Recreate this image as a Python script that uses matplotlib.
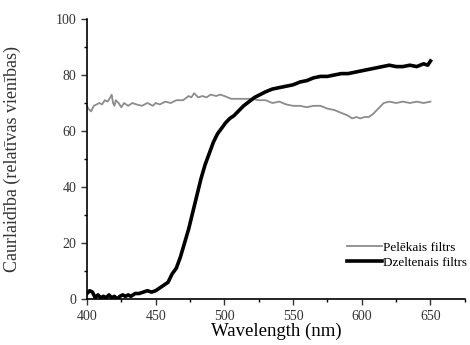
import matplotlib.pyplot as plt
from matplotlib.ticker import MultipleLocator

plt.rcParams['font.family'] = ['Liberation Serif', 'DejaVu Serif']

# Pelēkais filtrs (grey filter)
grey_wl = [400, 401, 403, 405, 407, 409, 411, 413, 415, 417, 418, 419, 420, 421, 423, 425, 427, 430,
           433, 436, 440, 444, 448, 450, 453, 457, 461, 465, 470, 474, 476, 478, 481, 484, 487, 490,
           494, 497, 500, 505, 510, 515, 520, 525, 530, 535, 540, 545, 550, 555, 560, 565, 570,
           575, 580, 585, 590, 593, 596, 599, 602, 605, 608, 612, 616, 620, 625, 630, 635, 640,
           645, 650]
grey_val = [69, 68, 67, 69, 69.5, 70, 69.5, 71, 70.5, 72, 73, 70, 69, 71, 70, 68.5, 70, 69,
            70, 69.5, 69, 70, 69, 70, 69.5, 70.5, 70, 71, 71, 72.5, 72, 73.5, 72, 72.5, 72, 73,
            72.5, 73, 72.5, 71.5, 71.5, 71.5, 71.5, 71, 71, 70, 70.5, 69.5, 69, 69, 68.5, 69, 69,
            68, 67.5, 66.5, 65.5, 64.5, 65, 64.5, 65, 65, 66, 68, 70, 70.5, 70, 70.5, 70, 70.5,
            70, 70.5]

# Dzeltenais filtrs (yellow filter)
yel_wl = [400, 402, 404, 406, 408, 410, 412, 414, 416, 418, 420, 422, 424, 426, 428, 430, 432,
          435, 438, 441, 444, 447, 450, 453, 456, 459, 462, 465, 468, 471, 474, 477, 480, 483,
          486, 489, 492, 495, 498, 501, 504, 507, 510, 514, 518, 522, 526, 530, 535, 540, 545,
          550, 555, 560, 565, 570, 575, 580, 585, 590, 595, 600, 605, 610, 615, 620, 625, 630,
          635, 640, 645, 648, 650]
yel_val = [2, 3, 2.5, 0.5, 1.5, 0.5, 1, 0.5, 1.5, 0.5, 1, 0, 1, 1.5, 1, 1.5, 1,
           2, 2, 2.5, 3, 2.5, 3, 4, 5, 6, 9, 11, 15, 20, 25, 31, 37, 43,
           48, 52, 56, 59, 61, 63, 64.5, 65.5, 67, 69, 70.5, 72, 73, 74, 75, 75.5, 76,
           76.5, 77.5, 78, 79, 79.5, 79.5, 80, 80.5, 80.5, 81, 81.5, 82, 82.5, 83, 83.5, 83, 83,
           83.5, 83, 84, 83.5, 85]

fig = plt.figure(figsize=(4.7, 3.45), dpi=100)
ax = fig.add_axes([0.185, 0.133, 0.804, 0.812])

ax.plot(grey_wl, grey_val, color='#8c8c8c', lw=1.3, label='Pelēkais filtrs')
ax.plot(yel_wl, yel_val, color='black', lw=2.6, label='Dzeltenais filtrs')

ax.set_xlim(400, 675)
ax.set_ylim(0, 100)
ax.xaxis.set_major_locator(MultipleLocator(50))
ax.xaxis.set_minor_locator(MultipleLocator(25))
ax.yaxis.set_major_locator(MultipleLocator(20))
ax.yaxis.set_minor_locator(MultipleLocator(10))
ax.tick_params(which='major', direction='out', length=4, width=1, labelsize=10, colors='#333333')
ax.tick_params(which='minor', direction='out', length=2.5, width=1)
ax.spines['top'].set_visible(False)
ax.spines['right'].set_visible(False)
ax.spines['left'].set_linewidth(1.2)
ax.spines['bottom'].set_linewidth(1.2)

ax.set_xlabel('Wavelength (nm)', fontsize=13.5, labelpad=0)
ax.set_ylabel('Caurlaidība (relatīvas vienības)', fontsize=13, color='#333333')
ax.yaxis.set_label_coords(-0.175, 0.5)

ax.legend(loc='lower right', bbox_to_anchor=(1.02, 0.09), frameon=False, fontsize=9.5,
          handlelength=2.6, handletextpad=0.1, labelspacing=0.2, borderaxespad=0)

fig.savefig('out.png', dpi=100)
